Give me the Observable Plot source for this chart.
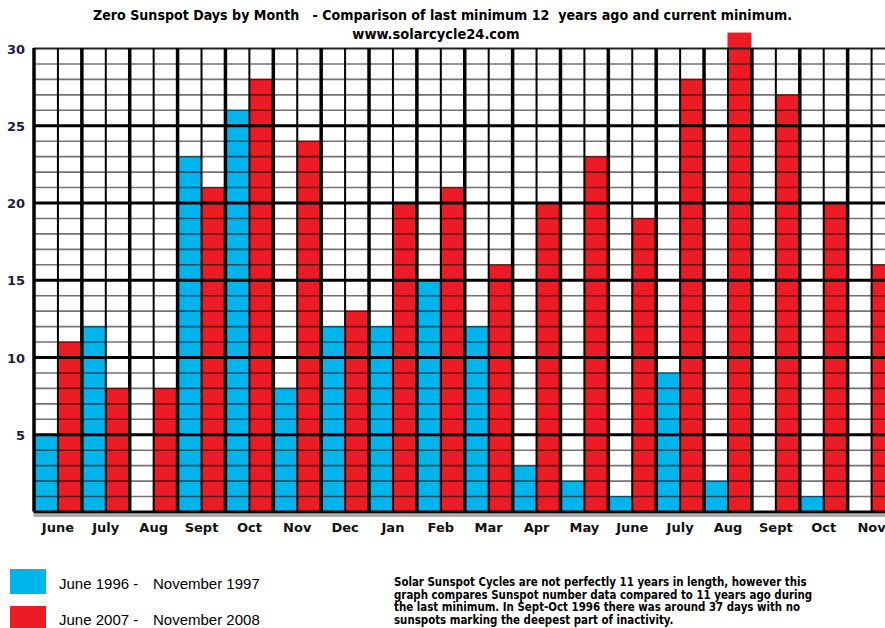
<!DOCTYPE html>
<html><head><meta charset="utf-8">
<script src="https://cdn.jsdelivr.net/npm/d3@7"></script>
<script src="https://cdn.jsdelivr.net/npm/@observablehq/plot@0.6"></script>
<style>
body{margin:0;background:#fff;overflow:hidden}
#wrap{position:relative;width:885px;height:628px;overflow:hidden;background:#fff}
#chart{position:absolute;left:0;top:0}
.t{position:absolute;white-space:pre;color:#000}
#t1{left:0;top:7px;width:885px;text-align:center;font:bold 14.1px "DejaVu Sans Condensed","DejaVu Sans",sans-serif}
#t2{left:0;top:26px;width:872px;text-align:center;font:bold 14.5px "DejaVu Sans Condensed","DejaVu Sans",sans-serif}
.sw{position:absolute;left:10px;width:36px;height:25px}
.lg{position:absolute;font:15px "Liberation Sans",Arial,sans-serif;white-space:pre}
#cap{position:absolute;left:394px;top:576px;font:bold 11.4px "DejaVu Sans Condensed","DejaVu Sans",sans-serif;line-height:12.5px;white-space:pre}
</style></head>
<body>
<div id="wrap">
  <div id="chart"></div>
  <div class="t" id="t1">Zero Sunspot Days by Month   - Comparison of last minimum 12  years ago and current minimum.</div>
  <div class="t" id="t2">www.solarcycle24.com</div>
  <div class="sw" style="top:569px;background:#00b4ec"></div>
  <div class="lg" style="left:59px;top:575px">June 1996 -</div>
  <div class="lg" style="left:153px;top:575px">November 1997</div>
  <div class="sw" style="top:606px;background:#ed1c24"></div>
  <div class="lg" style="left:59px;top:611px">June 2007 -</div>
  <div class="lg" style="left:153px;top:611px">November 2008</div>
  <div id="cap">Solar Sunspot Cycles are not perfectly 11 years in length, however this
graph compares Sunspot number data compared to 11 years ago during
the last minimum. In Sept-Oct 1996 there was around 37 days with no
sunspots marking the deepest part of inactivity.</div>
</div>
<script>
const months = ["June","July","Aug","Sept","Oct","Nov","Dec","Jan","Feb","Mar","Apr","May","June","July","Aug","Sept","Oct","Nov"];
const days1996 = [5,12,0,23,26,8,12,12,15,12,3,2,1,9,2,0,1,0];
const days2007 = [11,8,8,21,28,24,13,20,21,16,20,23,19,28,31,27,20,16];
const yTicks = [5,10,15,20,25,30];
const blue = "#00b4ec", red = "#ed1c24";

const nCols = months.length * 2;
const blueBars = days1996.map((v, i) => ({col: 2 * i, v}));
const redBars = days2007.map((v, i) => ({col: 2 * i + 1, v}));
const minorY = d3.range(1, 30).filter(d => d % 5 !== 0);
const majorY = [5, 10, 15, 20, 25];
const thinX = d3.range(1, nCols, 2);
const thickX = d3.range(0, nCols + 1, 2);

const chart = Plot.plot({
  width: 885,
  height: 540,
  x: {type: "linear", domain: [0, nCols], range: [33.5, 895], axis: null},
  y: {domain: [0, 30], range: [511.5, 48], axis: null},
  style: {background: "transparent", overflow: "visible"},
  marks: [
    Plot.rect(blueBars, {x1: "col", x2: d => d.col + 1, y1: 0, y2: "v", fill: blue}),
    Plot.rect(redBars, {x1: "col", x2: d => d.col + 1, y1: 0, y2: "v", fill: red}),
    Plot.ruleY(minorY, {x1: 0, x2: nCols, stroke: "#000", strokeOpacity: 0.55, strokeWidth: 1.6}),
    Plot.ruleY(majorY, {x1: 0, x2: nCols, stroke: "#000", strokeWidth: 3}),
    Plot.ruleY([30], {x1: 0, x2: nCols, stroke: "#222", strokeWidth: 2}),
    Plot.ruleX(thinX, {y1: 0, y2: 30, stroke: "#000", strokeWidth: 2}),
    Plot.ruleX(thickX, {y1: 0, y2: 30, stroke: "#000", strokeWidth: 3.5}),
    Plot.ruleY([0], {x1: 0, x2: nCols, stroke: "#000", strokeWidth: 3}),
    Plot.ruleY([0], {x1: 0, x2: nCols, dy: 3.5, stroke: "#a0a0a0", strokeWidth: 2.5}),
    Plot.text(months, {x: (d, i) => 2 * i + 1, y: 0, dy: 16, text: d => d, fontWeight: "bold", fontSize: 13, fontFamily: "DejaVu Sans", fill: "#111"}),
    Plot.text(yTicks, {x: 0, y: d => d, dx: -9, dy: 1, text: d => String(d), textAnchor: "end", fontWeight: "bold", fontSize: 13, fontFamily: "DejaVu Sans", fill: "#1c1c44"})
  ]
});
document.getElementById("chart").appendChild(chart);
</script>
</body></html>
